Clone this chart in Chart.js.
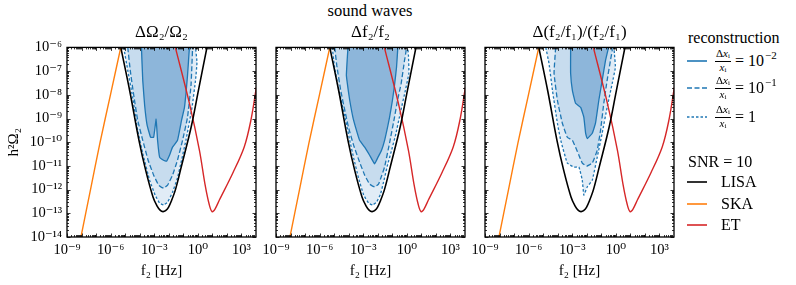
<!DOCTYPE html>
<html>
<head>
<meta charset="utf-8">
<script src="https://cdn.jsdelivr.net/npm/chart.js@4.4.0/dist/chart.umd.min.js"></script>
<style>
  body { margin: 0; width: 796px; height: 285px; background: #fff; position: relative; overflow: hidden;
         font-family: "Liberation Serif", "DejaVu Serif", serif; color: #000; }
  canvas { position: absolute; top: 0; }
  #sup { position: absolute; left: 270px; width: 200px; top: 1px; text-align: center; font-size: 16.5px; }
  .lg { position: absolute; font-size: 16px; line-height: 18px; }
  .row { position: absolute; left: 687px; height: 24px; display: flex; align-items: center; font-size: 16px; }
  .row svg { margin-right: 6px; }
  .frac { display: inline-flex; flex-direction: column; align-items: center; font-size: 11px; line-height: 1; margin-right: 4px; }
  .frac .num { border-bottom: 0.8px solid #000; padding: 0 1px 1px; }
  .frac sub { font-size: 7px; vertical-align: -1px; }
  .row sup { font-size: 11px; position: relative; top: -6px; vertical-align: baseline; margin-left: 1px; }
</style>
</head>
<body>
<div id="sup">sound waves</div>
<canvas id="c1" width="266" height="285" style="left:0px"></canvas>
<canvas id="c2" width="219" height="285" style="left:256px"></canvas>
<canvas id="c3" width="219" height="285" style="left:465px"></canvas>

<div class="lg" style="left:688px;top:29px">reconstruction</div>
<div class="row" style="top:49px"><svg width="22" height="4"><line x1="0" y1="2" x2="20" y2="2" stroke="#1f77b4" stroke-width="1.6"/></svg><span class="frac"><span class="num">Δ<i>x</i><sub>i</sub></span><span><i>x</i><sub>i</sub></span></span>= 10<sup>−2</sup></div>
<div class="row" style="top:76px"><svg width="22" height="4"><line x1="0" y1="2" x2="20" y2="2" stroke="#1f77b4" stroke-width="1.6" stroke-dasharray="5,2.5"/></svg><span class="frac"><span class="num">Δ<i>x</i><sub>i</sub></span><span><i>x</i><sub>i</sub></span></span>= 10<sup>−1</sup></div>
<div class="row" style="top:105px"><svg width="22" height="4"><line x1="0" y1="2" x2="20" y2="2" stroke="#1f77b4" stroke-width="1.6" stroke-dasharray="2.5,2"/></svg><span class="frac"><span class="num">Δ<i>x</i><sub>i</sub></span><span><i>x</i><sub>i</sub></span></span>= 1</div>
<div class="lg" style="left:688px;top:153px">SNR = 10</div>
<div class="row" style="top:170px"><svg width="28" height="4"><line x1="0" y1="2" x2="20" y2="2" stroke="#000" stroke-width="1.6"/></svg>LISA</div>
<div class="row" style="top:192px"><svg width="28" height="4"><line x1="0" y1="2" x2="20" y2="2" stroke="#ff7f0e" stroke-width="1.6"/></svg>SKA</div>
<div class="row" style="top:213px"><svg width="28" height="4"><line x1="0" y1="2" x2="20" y2="2" stroke="#d62728" stroke-width="1.6"/></svg>ET</div>

<script>
const SERIF = '"Liberation Serif", "DejaVu Serif", serif';

// tick values and labels
const xTickVals = [1e-9, 1e-6, 1e-3, 1, 1e3];
const xTickLabels = ['10⁻⁹', '10⁻⁶', '10⁻³', '10⁰', '10³'];
const yTickVals = [1e-14, 1e-13, 1e-12, 1e-11, 1e-10, 1e-9, 1e-8, 1e-7, 1e-6];
const yTickLabels = ['10⁻¹⁴', '10⁻¹³', '10⁻¹²', '10⁻¹¹', '10⁻¹⁰', '10⁻⁹', '10⁻⁸', '10⁻⁷', '10⁻⁶'];

// detector sensitivity curves, log10(f / Hz) and log10(h^2 Omega)
const lisaF = [-5.40, -5.30, -4.68, -4.05, -3.59, -3.09, -2.80, -2.58, -2.40, -2.22, -2.02, -1.82, -1.53, -1.14, -0.46, 0.04, 0.61, 0.75];
const lisaH = [-5.70, -6.00, -7.85, -9.92, -11.18, -12.30, -12.70, -12.88, -12.93, -12.89, -12.75, -12.48, -11.98, -11.04, -9.36, -7.81, -6.05, -5.60];
const skaF = [-8.20, -8.04, -7.40, -6.74, -6.00, -5.30, -5.10];
const skaH = [-14.50, -14.00, -12.05, -10.05, -7.97, -6.00, -5.45];
const etF = [-1.70, -1.53, -0.58, 0.11, 0.50, 0.78, 0.98, 1.18, 1.48, 2.39, 3.19, 3.65, 4.03];
const etH = [-5.65, -6.04, -8.36, -10.34, -11.80, -12.62, -12.93, -12.82, -12.44, -11.32, -10.20, -9.07, -7.67];

// reconstruction contours, panel 1: Delta Omega_2 / Omega_2
const p1SolidF = [-3.88, -3.79, -3.66, -3.49, -3.25, -3.04, -2.87, -2.77, -2.63, -2.36, -2.15, -1.95, -1.74, -1.40, -1.12, -0.92, -0.71, -0.58];
const p1SolidH = [-6.00, -7.39, -8.44, -9.28, -9.79, -9.79, -9.03, -9.92, -10.63, -10.76, -10.80, -10.55, -10.21, -9.92, -9.07, -8.53, -7.18, -6.00];
const p1DashF = [-4.82, -4.65, -4.41, -4.14, -3.79, -3.42, -3.04, -2.70, -2.36, -2.08, -1.74, -1.40, -1.05, -0.71, -0.47, -0.37, -0.40];
const p1DashH = [-6.00, -6.97, -8.02, -9.07, -9.92, -10.76, -11.39, -11.81, -11.94, -11.81, -11.39, -10.76, -9.92, -8.95, -7.60, -6.13, -6.00];
const p1DotF = [-5.10, -4.82, -4.45, -4.14, -3.76, -3.32, -2.94, -2.63, -2.36, -2.08, -1.74, -1.40, -1.12, -0.82, -0.40, -0.16, -0.06, -0.16];
const p1DotH = [-6.00, -6.97, -8.23, -9.49, -10.55, -11.60, -12.23, -12.57, -12.65, -12.53, -12.11, -11.51, -10.76, -9.92, -8.53, -7.39, -6.63, -6.00];

// panel 2: Delta f_2 / f_2
const p2SolidF = [-4.05, -4.16, -4.03, -3.93, -3.71, -3.47, -3.25, -2.90, -2.56, -2.22, -1.98, -1.74, -1.53, -1.33, -1.19, -0.99, -0.85, -0.71, -0.62];
const p2SolidH = [-6.00, -7.18, -7.81, -8.23, -8.95, -9.49, -9.92, -10.21, -10.55, -10.91, -10.63, -10.34, -9.92, -9.37, -8.95, -8.23, -7.60, -6.84, -6.00];
const p2DashF = [-4.96, -4.82, -4.55, -4.27, -4.00, -3.66, -3.25, -2.90, -2.56, -2.22, -1.95, -1.74, -1.53, -1.19, -0.85, -0.64, -0.39, -0.16, -0.05, -0.10];
const p2DashH = [-6.00, -6.76, -7.81, -8.65, -9.41, -10.13, -10.84, -11.39, -11.77, -11.89, -11.77, -11.43, -11.04, -10.04, -8.95, -8.23, -7.52, -6.55, -6.13, -6.00];
const p2DotF = [-5.13, -4.99, -4.75, -4.51, -4.21, -3.93, -3.66, -3.32, -2.97, -2.63, -2.36, -2.08, -1.81, -1.57, -1.33, -1.05, -0.78, -0.44, -0.10, 0.14, 0.11, 0.06];
const p2DotH = [-6.00, -6.76, -7.60, -8.23, -9.07, -9.92, -10.67, -11.52, -12.23, -12.57, -12.65, -12.53, -12.19, -11.60, -10.97, -10.34, -9.71, -8.74, -7.81, -7.09, -6.34, -6.00];

// panel 3: Delta(f_2/f_1) / (f_2/f_1)
const p3SolidF = [-3.11, -3.11, -2.99, -2.77, -2.42, -2.20, -2.08, -1.97, -1.62, -1.40, -1.17, -0.94, -0.71, -0.55, -0.54];
const p3SolidH = [-6.00, -7.09, -7.81, -8.36, -8.53, -8.95, -9.62, -9.85, -9.62, -9.20, -8.23, -7.39, -6.55, -6.13, -6.00];
const p3DashF = [-4.14, -4.25, -4.02, -3.68, -3.34, -2.99, -2.77, -2.54, -2.31, -2.01, -1.62, -1.28, -1.05, -0.83, -0.60, -0.37, -0.25, -0.27];
const p3DashH = [-6.00, -7.09, -8.23, -9.20, -9.79, -9.92, -10.21, -10.55, -10.88, -11.01, -10.88, -10.34, -9.49, -8.36, -7.39, -6.55, -6.13, -6.00];
const p3DotF = [-4.82, -4.60, -4.36, -4.02, -3.79, -3.34, -2.88, -2.54, -2.31, -2.20, -1.97, -1.62, -1.28, -0.94, -0.60, -0.25, -0.03, -0.10, -0.13];
const p3DotH = [-6.00, -6.67, -7.81, -9.20, -9.92, -10.88, -11.05, -11.05, -11.60, -12.23, -11.89, -11.60, -10.63, -9.62, -8.53, -7.52, -6.84, -6.25, -6.00];

function pts(fs, hs) {
  return fs.map((f, i) => ({ x: Math.pow(10, f), y: Math.pow(10, hs[i]) }));
}

function curve(fs, hs, color, width) {
  return { data: pts(fs, hs), borderColor: color, borderWidth: width, showLine: true,
           pointRadius: 0, tension: 0.35, fill: false };
}

function region(fs, hs, bg, dash) {
  return { data: pts(fs, hs), borderColor: '#1f77b4', borderWidth: 1.3, borderDash: dash,
           backgroundColor: bg, fill: 'shape', showLine: true, pointRadius: 0, tension: 0.1 };
}

// frame with inward ticks on all four sides
const frame = {
  id: 'frame',
  afterDatasetsDraw(chart) {
    const { ctx, chartArea: a, scales: { x, y } } = chart;
    ctx.save();
    ctx.strokeStyle = '#000';
    ctx.lineWidth = 0.8;
    ctx.beginPath();
    for (let d = -9; d <= 3; d++) {
      for (let m = 1; m <= 9; m++) {
        const px = Math.round(x.getPixelForValue(m * Math.pow(10, d))) + 0.5;
        if (px > a.right - 1) continue;
        const len = m === 1 ? 3.5 : 2;
        ctx.moveTo(px, a.bottom); ctx.lineTo(px, a.bottom - len);
        ctx.moveTo(px, a.top); ctx.lineTo(px, a.top + len);
      }
    }
    for (let d = -14; d <= -7; d++) {
      for (let m = 1; m <= 9; m++) {
        const py = Math.round(y.getPixelForValue(m * Math.pow(10, d))) + 0.5;
        const len = m === 1 ? 3.5 : 2;
        ctx.moveTo(a.left, py); ctx.lineTo(a.left + len, py);
        ctx.moveTo(a.right, py); ctx.lineTo(a.right - len, py);
      }
    }
    ctx.stroke();
    ctx.lineWidth = 1.3;
    ctx.strokeRect(a.left, a.top, a.right - a.left, a.bottom - a.top);
    ctx.restore();
  }
};

function makePanel(id, title, solid, dash, dot, first) {
  new Chart(document.getElementById(id), {
    type: 'scatter',
    data: {
      datasets: [
        curve(lisaF, lisaH, '#000000', 1.6),
        curve(etF, etH, '#d62728', 1.4),
        curve(skaF, skaH, '#ff7f0e', 1.4),
        region(solid[0], solid[1], '#8db6da', []),
        region(dash[0], dash[1], '#c7dcee', [5, 2.5]),
        region(dot[0], dot[1], '#e1ecf6', [2.5, 2])
      ]
    },
    options: {
      responsive: false,
      animation: false,
      devicePixelRatio: 1,
      layout: { padding: { top: 0, right: 10, bottom: 0, left: 0 } },
      plugins: {
        legend: { display: false },
        tooltip: { enabled: false },
        title: { display: true, text: title, fullSize: false, color: '#000',
                 font: { family: SERIF, size: 17, weight: 'normal' }, padding: { top: 22, bottom: 5 } }
      },
      scales: {
        x: {
          type: 'logarithmic', min: 1e-9, max: 1e4,
          grid: { display: false, drawTicks: false }, border: { display: false },
          afterBuildTicks: s => { s.ticks = xTickVals.map(v => ({ value: v })); },
          afterFit: s => { s.height = 48; },
          ticks: { autoSkip: false, maxRotation: 0, padding: 4, color: '#000',
                   font: { family: SERIF, size: 14.5 }, callback: (v, i) => xTickLabels[i] },
          title: { display: true, text: 'f₂ [Hz]', color: '#000',
                   font: { family: SERIF, size: 15 }, padding: { top: 0, bottom: 5 } }
        },
        y: {
          type: 'logarithmic', min: 1e-14, max: 1e-6,
          grid: { display: false, drawTicks: false }, border: { display: false },
          afterBuildTicks: s => { s.ticks = yTickVals.map(v => ({ value: v })); },
          afterFit: s => { s.width = first ? 67 : 20; },
          ticks: { display: first, autoSkip: false, padding: 5, color: '#000',
                   font: { family: SERIF, size: 14.5 }, callback: (v, i) => yTickLabels[i] },
          title: { display: first, text: 'h²Ω₂', color: '#000',
                   font: { family: SERIF, size: 15 }, padding: { top: 5, bottom: 0 } }
        }
      }
    },
    plugins: [frame]
  });
}

makePanel('c1', 'ΔΩ₂/Ω₂', [p1SolidF, p1SolidH], [p1DashF, p1DashH], [p1DotF, p1DotH], true);
makePanel('c2', 'Δf₂/f₂', [p2SolidF, p2SolidH], [p2DashF, p2DashH], [p2DotF, p2DotH], false);
makePanel('c3', 'Δ(f₂/f₁)/(f₂/f₁)', [p3SolidF, p3SolidH], [p3DashF, p3DashH], [p3DotF, p3DotH], false);
</script>
</body>
</html>
